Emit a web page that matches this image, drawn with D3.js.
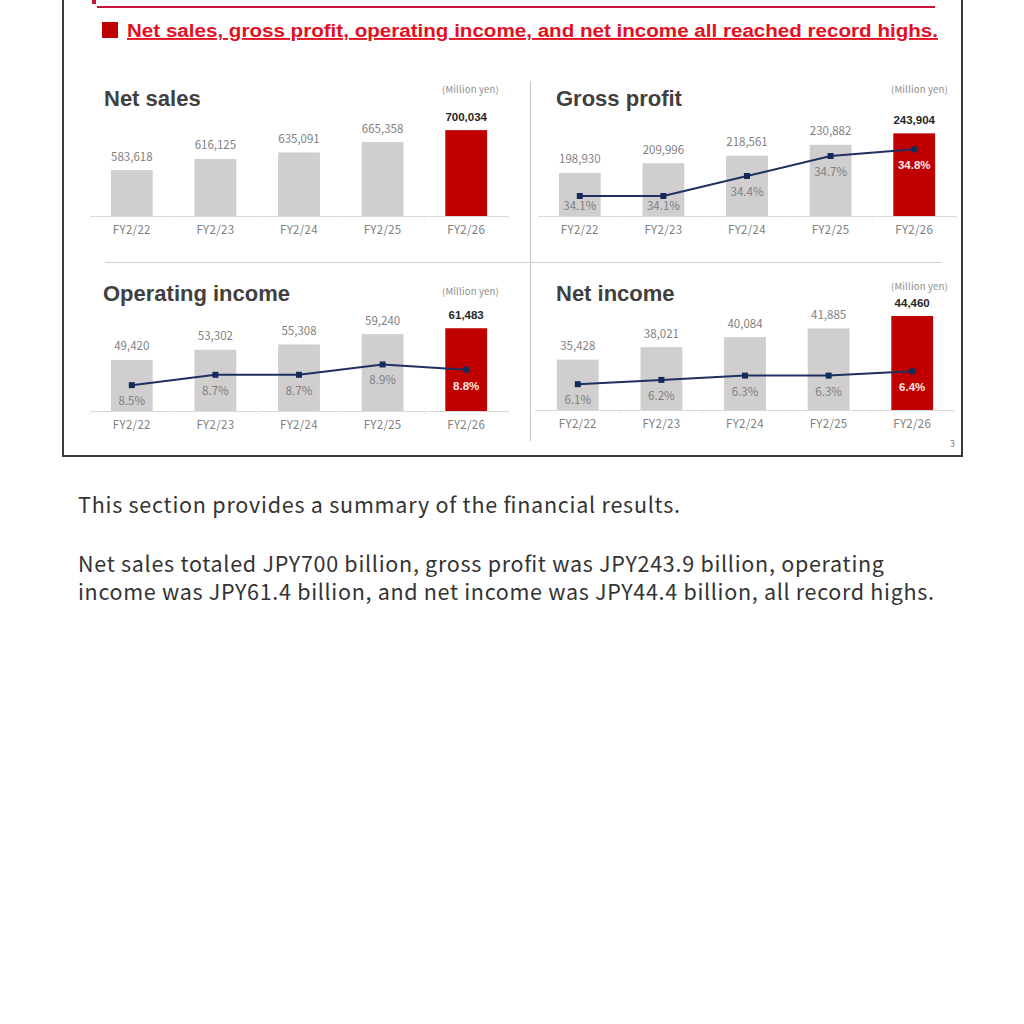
<!DOCTYPE html>
<html>
<head>
<meta charset="utf-8">
<script src="https://cdn.jsdelivr.net/npm/d3@7"></script>
<style>
  html, body { margin: 0; padding: 0; background: #fff; }
  svg { display: block; }
</style>
</head>
<body>
<svg id="page" width="1024" height="1024"></svg>
<script>
const categories = ["FY2/22", "FY2/23", "FY2/24", "FY2/25", "FY2/26"];

const netSales = [583618, 616125, 635091, 665358, 700034];
const grossProfit = [198930, 209996, 218561, 230882, 243904];
const grossMargin = [34.1, 34.1, 34.4, 34.7, 34.8];
const operatingIncome = [49420, 53302, 55308, 59240, 61483];
const operatingMargin = [8.5, 8.7, 8.7, 8.9, 8.8];
const netIncome = [35428, 38021, 40084, 41885, 44460];
const netMargin = [6.1, 6.2, 6.3, 6.3, 6.4];

const headline = "Net sales, gross profit, operating income, and net income all reached record highs.";
const bodyLines = [
  "This section provides a summary of the financial results.",
  "Net sales totaled JPY700 billion, gross profit was JPY243.9 billion, operating",
  "income was JPY61.4 billion, and net income was JPY44.4 billion, all record highs."
];

const svg = d3.select("#page");
const JP = "'Noto Sans CJK JP', 'Noto Sans', sans-serif";
const ARIAL = "'Liberation Sans', Arial, sans-serif";

// slide frame
svg.append("rect")
  .attr("x", 63).attr("y", -10)
  .attr("width", 899).attr("height", 466)
  .attr("fill", "none")
  .attr("stroke", "#3a3a3a")
  .attr("stroke-width", 2);

// top accent line
svg.append("rect").attr("x", 92).attr("y", 0).attr("width", 4).attr("height", 4).attr("fill", "#c8143c");
svg.append("line")
  .attr("x1", 97).attr("x2", 935).attr("y1", 7).attr("y2", 7)
  .attr("stroke", "#c8143c").attr("stroke-width", 2);

// headline
svg.append("rect").attr("x", 102).attr("y", 22).attr("width", 16).attr("height", 16).attr("fill", "#c00000");
svg.append("text")
  .attr("x", 127).attr("y", 37)
  .attr("font-family", ARIAL)
  .attr("font-weight", "bold")
  .attr("font-size", 18.8)
  .attr("fill", "#e3101f")
  .attr("text-decoration", "underline")
  .attr("textLength", 811)
  .attr("lengthAdjust", "spacingAndGlyphs")
  .text(headline);

// dividers
svg.append("line").attr("x1", 530.5).attr("x2", 530.5).attr("y1", 81).attr("y2", 441)
  .attr("stroke", "#c4c4c4").attr("stroke-width", 1);
svg.append("line").attr("x1", 105).attr("x2", 942).attr("y1", 262.5).attr("y2", 262.5)
  .attr("stroke", "#d0d0d0").attr("stroke-width", 1);

svg.append("text").attr("x", 955).attr("y", 447).attr("text-anchor", "end")
  .attr("font-family", JP).attr("font-size", 9.5).attr("fill", "#808080").text("3");

const panels = [
  { title: "Net sales", values: netSales, margins: null, x0: 90, axisY: 216,
    domain: [450000, 750000], h: 103, unitY: 93, titleX: 104, titleY: 106, unitX: 499 },
  { title: "Gross profit", values: grossProfit, margins: grossMargin, x0: 538, axisY: 216,
    domain: [150000, 250000], h: 88, pDomain: [33.8, 35.0], ph: 80, unitY: 93, titleX: 556, titleY: 106, unitX: 948 },
  { title: "Operating income", values: operatingIncome, margins: operatingMargin, x0: 90, axisY: 411,
    domain: [30000, 65000], h: 92, pDomain: [8.0, 9.0], ph: 51.7, unitY: 295, titleX: 103, titleY: 301, unitX: 499 },
  { title: "Net income", values: netIncome, margins: netMargin, x0: 536, axisY: 410,
    domain: [25000, 45000], h: 96.6, pDomain: [5.5, 6.5], ph: 43, unitY: 290, titleX: 556, titleY: 301, unitX: 948 }
];

const fmt = d3.format(",");

panels.forEach((p) => {
  const g = svg.append("g");
  const last = categories[categories.length - 1];

  const x = d3.scaleBand()
    .domain(categories)
    .range([p.x0, p.x0 + 418])
    .paddingInner(0.5)
    .paddingOuter(0.25);

  const y = d3.scaleLinear().domain(p.domain).range([p.axisY, p.axisY - p.h]);

  const rows = categories.map((c, i) => ({ cat: c, value: p.values[i], margin: p.margins ? p.margins[i] : null }));

  g.append("text")
    .attr("x", p.titleX).attr("y", p.titleY)
    .attr("font-family", ARIAL).attr("font-weight", "bold")
    .attr("font-size", 22).attr("fill", "#404040")
    .text(p.title);

  g.append("text")
    .attr("x", p.unitX).attr("y", p.unitY)
    .attr("text-anchor", "end")
    .attr("font-family", JP).attr("font-size", 9.5).attr("fill", "#8c8c8c")
    .attr("letter-spacing", 0.2)
    .text("(Million yen)");

  g.selectAll(".bar")
    .data(rows)
    .enter()
    .append("rect")
    .attr("class", "bar")
    .attr("x", (d) => x(d.cat))
    .attr("width", x.bandwidth())
    .attr("y", (d) => y(d.value))
    .attr("height", (d) => p.axisY - y(d.value))
    .attr("fill", (d) => (d.cat === last ? "#c00000" : "#d0cece"));

  g.selectAll(".val")
    .data(rows)
    .enter()
    .append("text")
    .attr("class", "val")
    .attr("x", (d) => x(d.cat) + x.bandwidth() / 2)
    .attr("y", (d) => y(d.value) - 9.5)
    .attr("text-anchor", "middle")
    .attr("font-family", (d) => (d.cat === last ? ARIAL : JP))
    .attr("font-weight", (d) => (d.cat === last ? "bold" : "normal"))
    .attr("font-size", 11.5)
    .attr("fill", (d) => (d.cat === last ? "#262626" : "#7f7f7f"))
    .text((d) => fmt(d.value));

  const axis = d3.axisBottom(x).tickSize(0).tickPadding(10);
  const ax = g.append("g").attr("transform", `translate(0,${p.axisY})`).call(axis);
  ax.select(".domain").attr("stroke", "#d9d9d9").attr("stroke-width", 1.2);
  ax.selectAll("text")
    .attr("font-family", JP).attr("font-size", 11.5).attr("fill", "#808080")
    .attr("letter-spacing", 0.3);

  // faint boundary ticks
  g.selectAll(".btick")
    .data(d3.range(categories.length + 1))
    .enter()
    .append("line")
    .attr("x1", (i) => p.x0 + i * x.step()).attr("x2", (i) => p.x0 + i * x.step())
    .attr("y1", p.axisY).attr("y2", p.axisY + 3)
    .attr("stroke", "#e6e6e6");

  if (p.margins) {
    const yp = d3.scaleLinear().domain(p.pDomain).range([p.axisY, p.axisY - p.ph]);
    const cx = (d) => x(d.cat) + x.bandwidth() / 2;

    g.append("path")
      .datum(rows)
      .attr("fill", "none")
      .attr("stroke", "#1f3060")
      .attr("stroke-width", 2)
      .attr("d", d3.line().x(cx).y((d) => yp(d.margin)));

    g.selectAll(".mk")
      .data(rows)
      .enter()
      .append("rect")
      .attr("class", "mk")
      .attr("x", (d) => cx(d) - 3).attr("y", (d) => yp(d.margin) - 3)
      .attr("width", 6).attr("height", 6)
      .attr("fill", "#152a5c");

    g.selectAll(".pct")
      .data(rows)
      .enter()
      .append("text")
      .attr("class", "pct")
      .attr("x", cx)
      .attr("y", (d) => Math.min(yp(d.margin) + 20, p.axisY - 6))
      .attr("text-anchor", "middle")
      .attr("font-family", (d) => (d.cat === last ? ARIAL : JP))
      .attr("font-weight", (d) => (d.cat === last ? "bold" : "normal"))
      .attr("font-size", 11.5)
      .attr("fill", (d) => (d.cat === last ? "#ffe8e8" : "#7f7f7f"))
      .text((d) => d.margin.toFixed(1) + "%");
  }
});

// commentary below the slide
const bodyY = [513, 572, 600];
const bodyW = [602, 806, 856];
svg.selectAll(".body")
  .data(bodyLines)
  .enter()
  .append("text")
  .attr("class", "body")
  .attr("x", 78)
  .attr("y", (d, i) => bodyY[i])
  .attr("font-family", JP)
  .attr("font-size", 21.5)
  .attr("fill", "#333333")
  .attr("textLength", (d, i) => bodyW[i])
  .attr("lengthAdjust", "spacing")
  .text((d) => d);
</script>
</body>
</html>
